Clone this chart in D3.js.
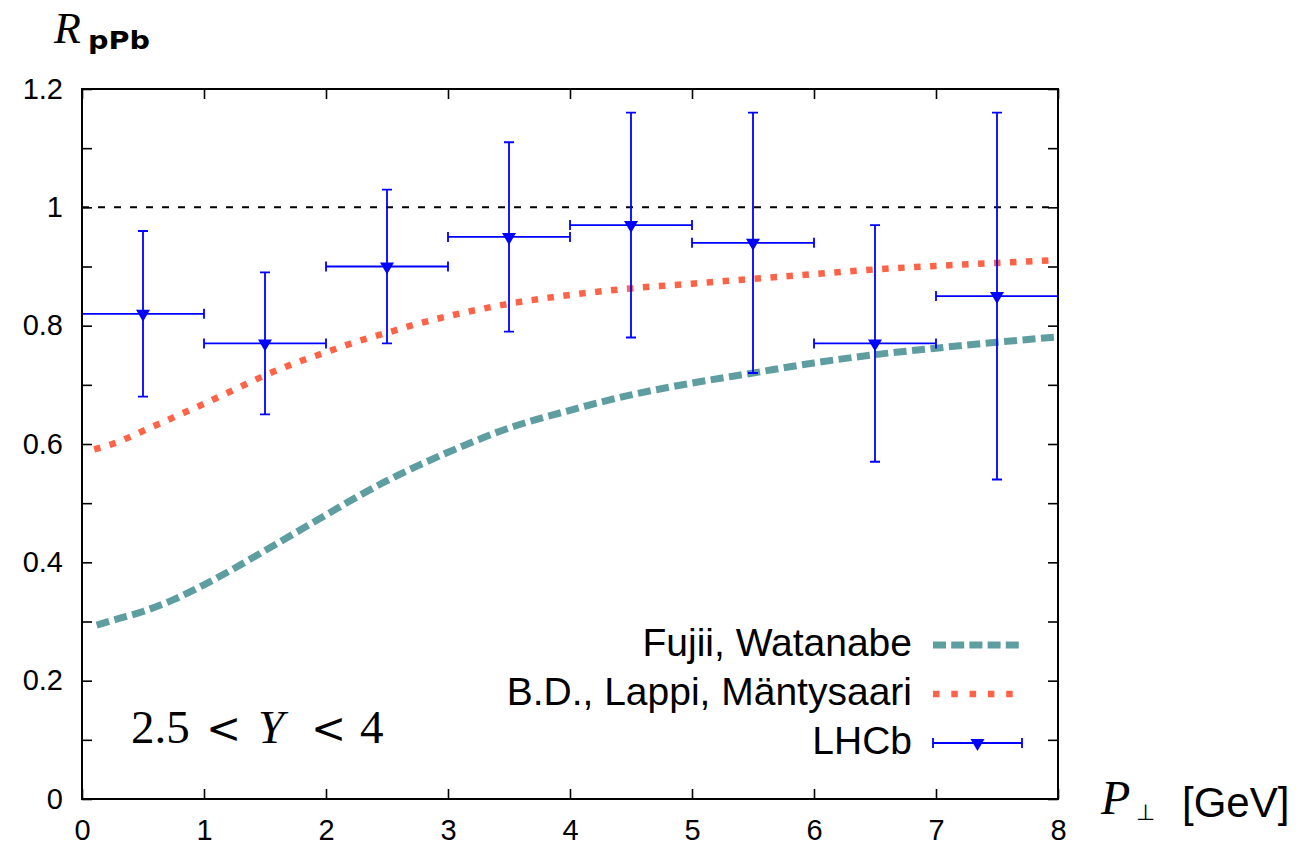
<!DOCTYPE html>
<html>
<head>
<meta charset="utf-8">
<script src="https://cdn.jsdelivr.net/npm/d3@7"></script>
<style>
body { margin: 0; background: #fff; }
</style>
</head>
<body>
<div id="chart"></div>
<script>
(function(d3) {
    'use strict';

    // LHCb points (bins in P_perp)
    var binLo = [0, 1, 2, 3, 4, 5, 6, 7];
    var binHi = [1, 2, 3, 4, 5, 6, 7, 8];
    var lhcbX = [0.5, 1.5, 2.5, 3.5, 4.5, 5.5, 6.5, 7.5];
    var lhcbY = [0.82, 0.77, 0.90, 0.95, 0.97, 0.94, 0.77, 0.85];
    var lhcbLo = [0.68, 0.65, 0.77, 0.79, 0.78, 0.72, 0.57, 0.54];
    var lhcbHi = [0.96, 0.89, 1.03, 1.11, 1.16, 1.16, 0.97, 1.16];

    // Fujii, Watanabe curve
    var fwX = [0.12, 0.25, 0.5, 0.75, 1, 1.25, 1.5, 1.75, 2, 2.25, 2.5, 2.75, 3, 3.5, 4, 4.5, 5, 5.5, 6, 6.5, 7, 7.5, 8];
    var fwY = [0.294, 0.302, 0.317, 0.337, 0.362, 0.390, 0.420, 0.450, 0.480, 0.510, 0.538, 0.563, 0.586, 0.627, 0.657, 0.683, 0.703, 0.720, 0.737, 0.751, 0.762, 0.772, 0.781];

    // B.D., Lappi, Mäntysaari curve
    var blmX = [0.1, 0.25, 0.5, 0.75, 1, 1.25, 1.5, 1.75, 2, 2.25, 2.5, 2.75, 3, 3.5, 4, 4.5, 5, 5.5, 6, 6.5, 7, 7.5, 8];
    var blmY = [0.591, 0.600, 0.622, 0.645, 0.668, 0.692, 0.716, 0.737, 0.755, 0.773, 0.788, 0.803, 0.816, 0.837, 0.852, 0.863, 0.871, 0.879, 0.887, 0.895, 0.901, 0.906, 0.911];

    var xTicks = [0, 1, 2, 3, 4, 5, 6, 7, 8];
    var yTicks = [0, 0.1, 0.2, 0.3, 0.4, 0.5, 0.6, 0.7, 0.8, 0.9, 1.0, 1.1, 1.2];
    var yTickLabels = ['0', '', '0.2', '', '0.4', '', '0.6', '', '0.8', '', '1', '', '1.2'];
    var refLine = 1;

    var legendNames = ['Fujii, Watanabe', 'B.D., Lappi, M\u00e4ntysaari', 'LHCb'];

    var width = 1296,
        height = 846,
        margin = {left: 82, right: 238, top: 89, bottom: 47};

    var fwColor = '#5f9ea0',
        blmColor = '#ff6347',
        lhcbColor = '#0000ff';

    var x = d3.scaleLinear().domain([0, 8]).range([margin.left, width - margin.right]);
    var y = d3.scaleLinear().domain([0, 1.2]).range([height - margin.bottom, margin.top]);

    var svg = d3.select('#chart').append('svg')
        .attr('width', width)
        .attr('height', height)
        .style('font-family', '"Liberation Sans", Arial, sans-serif');

    svg.append('defs').append('clipPath')
        .attr('id', 'plotclip')
        .append('rect')
        .attr('x', x(0)).attr('y', y(1.2))
        .attr('width', x(8) - x(0)).attr('height', y(0) - y(1.2));

    // axes
    var tickLen = 10;
    var xAxis = svg.append('g')
        .attr('transform', 'translate(0,' + y(0) + ')')
        .call(d3.axisBottom(x).tickValues(xTicks).tickSizeInner(-tickLen).tickSizeOuter(0).tickPadding(20)
            .tickFormat(function(d) { return String(d); }));
    var xAxisTop = svg.append('g')
        .attr('transform', 'translate(0,' + y(1.2) + ')')
        .call(d3.axisTop(x).tickValues(xTicks).tickSizeInner(-tickLen).tickSizeOuter(0).tickFormat(''));
    var yAxis = svg.append('g')
        .attr('transform', 'translate(' + x(0) + ',0)')
        .call(d3.axisLeft(y).tickValues(yTicks).tickSizeInner(-tickLen).tickSizeOuter(0).tickPadding(19)
            .tickFormat(function(d, i) { return yTickLabels[i]; }));
    var yAxisRight = svg.append('g')
        .attr('transform', 'translate(' + x(8) + ',0)')
        .call(d3.axisRight(y).tickValues(yTicks).tickSizeInner(-tickLen).tickSizeOuter(0).tickFormat(''));

    [xAxis, xAxisTop, yAxis, yAxisRight].forEach(function(g) {
        g.select('.domain').remove();
        g.selectAll('line').attr('stroke', '#000').attr('stroke-width', 1.6);
        g.selectAll('text').attr('fill', '#000')
            .style('font-family', '"Liberation Sans", Arial, sans-serif')
            .style('font-size', '29px');
    });

    // reference line at 1
    svg.append('line')
        .attr('x1', x(0)).attr('x2', x(8))
        .attr('y1', y(refLine)).attr('y2', y(refLine))
        .attr('stroke', '#000')
        .attr('stroke-width', 2)
        .attr('stroke-dasharray', '7,9');

    var plot = svg.append('g').attr('clip-path', 'url(#plotclip)');

    var line = d3.line()
        .x(function(d) { return x(d[0]); })
        .y(function(d) { return y(d[1]); })
        .curve(d3.curveMonotoneX);

    plot.append('path')
        .datum(d3.zip(blmX, blmY))
        .attr('d', line)
        .attr('fill', 'none')
        .attr('stroke', blmColor)
        .attr('stroke-width', 6.5)
        .attr('stroke-dasharray', '6.5,9.5');

    plot.append('path')
        .datum(d3.zip(fwX, fwY))
        .attr('d', line)
        .attr('fill', 'none')
        .attr('stroke', fwColor)
        .attr('stroke-width', 7)
        .attr('stroke-dasharray', '13,5.5');

    // LHCb error bars
    var cap = 5;
    var pts = d3.range(lhcbX.length).map(function(i) {
        return {x: lhcbX[i], y: lhcbY[i], lo: lhcbLo[i], hi: lhcbHi[i], xl: binLo[i], xh: binHi[i]};
    });

    var triangle = function(cx, cy) {
        return 'M' + (cx - 7) + ',' + (cy - 4) + 'L' + (cx + 7) + ',' + (cy - 4) + 'L' + cx + ',' + (cy + 8) + 'Z';
    };

    var eb = plot.selectAll('.eb')
        .data(pts)
        .enter()
        .append('g')
        .attr('class', 'eb')
        .attr('stroke', lhcbColor)
        .attr('stroke-width', 1.8)
        .attr('fill', 'none');

    eb.append('path')
        .attr('d', function(d) {
            var cx = x(d.x), cy = y(d.y);
            var x0 = x(d.xl), x1 = x(d.xh), yl = y(d.lo), yh = y(d.hi);
            return 'M' + cx + ',' + yl + 'V' + yh +
                'M' + (cx - cap) + ',' + yl + 'H' + (cx + cap) +
                'M' + (cx - cap) + ',' + yh + 'H' + (cx + cap) +
                'M' + x0 + ',' + cy + 'H' + x1 +
                'M' + x0 + ',' + (cy - cap) + 'V' + (cy + cap) +
                'M' + x1 + ',' + (cy - cap) + 'V' + (cy + cap);
        });

    eb.append('path')
        .attr('d', function(d) { return triangle(x(d.x), y(d.y)); })
        .attr('fill', lhcbColor)
        .attr('stroke', 'none');

    // frame
    svg.append('rect')
        .attr('x', x(0)).attr('y', y(1.2))
        .attr('width', x(8) - x(0)).attr('height', y(0) - y(1.2))
        .attr('fill', 'none')
        .attr('stroke', '#000')
        .attr('stroke-width', 2);

    // legend
    var legX0 = 933, legX1 = 1022, legTextX = 912;
    var legRows = [645, 694, 743];
    var legend = svg.append('g');

    legend.selectAll('text')
        .data(legendNames)
        .enter()
        .append('text')
        .attr('x', legTextX)
        .attr('y', function(d, i) { return legRows[i] + 11; })
        .attr('text-anchor', 'end')
        .style('font-size', '39px')
        .attr('fill', '#000')
        .text(function(d) { return d; });

    legend.append('line')
        .attr('x1', legX0).attr('x2', legX1)
        .attr('y1', legRows[0]).attr('y2', legRows[0])
        .attr('stroke', fwColor).attr('stroke-width', 7)
        .attr('stroke-dasharray', '13,5.2');
    legend.append('line')
        .attr('x1', legX0).attr('x2', legX1)
        .attr('y1', legRows[1]).attr('y2', legRows[1])
        .attr('stroke', blmColor).attr('stroke-width', 6.5)
        .attr('stroke-dasharray', '6.5,11.8');
    legend.append('path')
        .attr('d', 'M' + legX0 + ',' + legRows[2] + 'H' + legX1 +
            'M' + legX0 + ',' + (legRows[2] - cap) + 'V' + (legRows[2] + cap) +
            'M' + legX1 + ',' + (legRows[2] - cap) + 'V' + (legRows[2] + cap))
        .attr('stroke', lhcbColor).attr('stroke-width', 1.8).attr('fill', 'none');
    legend.append('path')
        .attr('d', triangle((legX0 + legX1) / 2, legRows[2]))
        .attr('fill', lhcbColor);

    // axis titles
    var serif = '"DejaVu Serif", "Liberation Serif", serif';
    var yTitle = svg.append('text')
        .attr('x', 54).attr('y', 43)
        .attr('fill', '#000');
    yTitle.append('tspan')
        .style('font-family', '"Liberation Serif", serif').style('font-style', 'italic').style('font-size', '44px')
        .text('R');
    yTitle.append('tspan')
        .attr('x', 88).attr('y', 49)
        .style('font-family', '"DejaVu Sans", sans-serif').style('font-weight', 'bold').style('font-size', '25px')
        .attr('textLength', 62).attr('lengthAdjust', 'spacingAndGlyphs')
        .text('pPb');

    var xTitle = svg.append('text')
        .attr('x', 1101).attr('y', 814)
        .attr('fill', '#000');
    xTitle.append('tspan')
        .style('font-family', '"Liberation Serif", serif').style('font-style', 'italic').style('font-size', '48px')
        .text('P');
    xTitle.append('tspan')
        .attr('x', 1136).attr('y', 820)
        .style('font-family', '"DejaVu Sans", sans-serif').style('font-size', '22px')
        .text('\u22a5');
    xTitle.append('tspan')
        .attr('x', 1182).attr('y', 817)
        .style('font-size', '42px')
        .text('[GeV]');

    // rapidity annotation
    var ann = svg.append('text')
        .attr('y', 743)
        .attr('fill', '#000')
        .style('font-family', '"Liberation Serif", serif')
        .style('font-size', '47px');
    ann.append('tspan').attr('x', 131).text('2.5');
    ann.append('tspan').attr('x', 206).style('font-family', serif).style('font-size', '42px').text('<');
    ann.append('tspan').attr('x', 258).style('font-style', 'italic').text('Y');
    ann.append('tspan').attr('x', 311).style('font-family', serif).style('font-size', '42px').text('<');
    ann.append('tspan').attr('x', 360).text('4');

})(window.d3);
</script>
</body>
</html>
